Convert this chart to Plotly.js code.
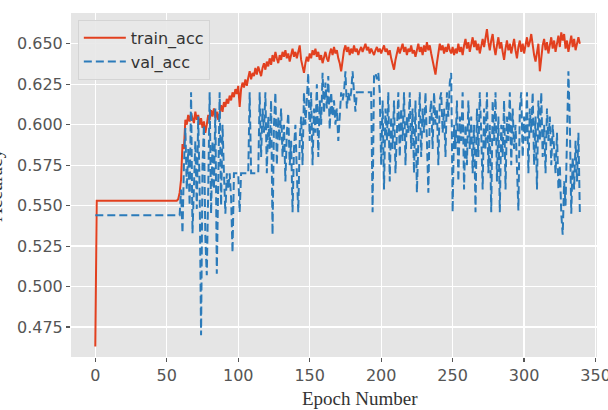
<!DOCTYPE html>
<html>
<head>
<meta charset="utf-8">
<script src="https://cdn.plot.ly/plotly-3.0.1.min.js"></script>
<style>html,body{margin:0;padding:0;background:#fff;}#chart{width:608px;height:410px;}</style>
</head>
<body>
<div id="chart"></div>
<script>
var seriesNames = ["train_acc", "val_acc"];
var xTickVals = [0, 50, 100, 150, 200, 250, 300, 350];
var yTickVals = [0.475, 0.500, 0.525, 0.550, 0.575, 0.600, 0.625, 0.650];
var xLabel = "Epoch Number";
var yLabel = "Accuracy";

var trainAcc = [
0.463,0.553,0.553,0.553,0.553,0.553,0.553,0.553,0.553,0.553,
0.553,0.553,0.553,0.553,0.553,0.553,0.553,0.553,0.553,0.553,
0.553,0.553,0.553,0.553,0.553,0.553,0.553,0.553,0.553,0.553,
0.553,0.553,0.553,0.553,0.553,0.553,0.553,0.553,0.553,0.553,
0.553,0.553,0.553,0.553,0.553,0.553,0.553,0.553,0.553,0.553,
0.553,0.553,0.553,0.553,0.553,0.553,0.553,0.553,0.554,0.558,
0.566,0.588,0.585,0.603,0.600,0.606,0.602,0.607,0.604,0.601,
0.608,0.603,0.606,0.600,0.604,0.598,0.602,0.595,0.600,0.606,
0.603,0.609,0.605,0.610,0.604,0.608,0.603,0.609,0.612,0.608,
0.614,0.611,0.616,0.613,0.618,0.615,0.620,0.617,0.622,0.619,
0.624,0.611,0.622,0.626,0.623,0.628,0.624,0.629,0.633,0.628,
0.632,0.630,0.635,0.631,0.636,0.633,0.630,0.635,0.638,0.634,
0.639,0.636,0.641,0.637,0.643,0.639,0.645,0.641,0.638,0.643,
0.640,0.645,0.642,0.646,0.641,0.644,0.639,0.643,0.647,0.642,
0.645,0.641,0.646,0.649,0.640,0.636,0.632,0.638,0.642,0.639,
0.644,0.641,0.646,0.643,0.647,0.642,0.645,0.640,0.643,0.638,
0.642,0.645,0.641,0.639,0.644,0.647,0.643,0.648,0.644,0.646,
0.641,0.638,0.633,0.640,0.646,0.649,0.645,0.648,0.643,0.647,
0.644,0.649,0.645,0.647,0.643,0.646,0.648,0.645,0.647,0.650,
0.646,0.648,0.644,0.647,0.645,0.643,0.646,0.648,0.645,0.647,
0.644,0.646,0.649,0.645,0.647,0.643,0.646,0.641,0.637,0.634,
0.640,0.645,0.648,0.644,0.647,0.650,0.645,0.648,0.643,0.647,
0.645,0.649,0.644,0.646,0.642,0.647,0.650,0.645,0.648,0.643,
0.649,0.645,0.651,0.646,0.649,0.644,0.640,0.635,0.631,0.638,
0.645,0.650,0.646,0.649,0.644,0.648,0.645,0.650,0.646,0.644,
0.648,0.643,0.647,0.644,0.650,0.645,0.648,0.643,0.649,0.653,
0.647,0.651,0.645,0.650,0.654,0.648,0.652,0.646,0.650,0.644,
0.649,0.653,0.648,0.655,0.659,0.651,0.646,0.652,0.656,0.648,
0.643,0.649,0.654,0.647,0.651,0.645,0.640,0.647,0.652,0.646,
0.650,0.644,0.649,0.653,0.646,0.641,0.648,0.652,0.645,0.650,
0.644,0.649,0.654,0.648,0.651,0.656,0.648,0.643,0.639,0.646,
0.650,0.633,0.642,0.649,0.653,0.646,0.651,0.644,0.649,0.654,
0.647,0.652,0.645,0.650,0.655,0.648,0.657,0.652,0.656,0.647,
0.652,0.645,0.651,0.655,0.648,0.653,0.646,0.651,0.654,0.650
];

var valAcc = [
0.544,0.544,0.544,0.544,0.544,0.544,0.544,0.544,0.544,0.544,
0.544,0.544,0.544,0.544,0.544,0.544,0.544,0.544,0.544,0.544,
0.544,0.544,0.544,0.544,0.544,0.544,0.544,0.544,0.544,0.544,
0.544,0.544,0.544,0.544,0.544,0.544,0.544,0.544,0.544,0.544,
0.544,0.544,0.544,0.544,0.544,0.544,0.544,0.544,0.544,0.544,
0.544,0.544,0.544,0.544,0.544,0.544,0.544,0.544,0.544,0.544,
0.560,0.533,0.575,0.598,0.560,0.585,0.550,0.620,0.533,0.565,
0.590,0.548,0.605,0.560,0.470,0.575,0.600,0.530,0.507,0.560,
0.620,0.545,0.590,0.560,0.610,0.508,0.575,0.620,0.550,0.600,
0.570,0.545,0.570,0.560,0.570,0.555,0.521,0.570,0.570,0.570,
0.570,0.546,0.570,0.570,0.570,0.570,0.570,0.570,0.620,0.570,
0.570,0.570,0.570,0.570,0.570,0.620,0.580,0.610,0.595,0.620,
0.570,0.605,0.585,0.615,0.532,0.600,0.620,0.575,0.605,0.590,
0.610,0.580,0.600,0.565,0.595,0.607,0.575,0.590,0.546,0.585,
0.600,0.570,0.546,0.590,0.605,0.575,0.620,0.600,0.615,0.632,
0.590,0.620,0.575,0.610,0.595,0.625,0.580,0.615,0.600,0.632,
0.607,0.626,0.610,0.630,0.597,0.620,0.605,0.615,0.600,0.610,
0.590,0.605,0.620,0.615,0.620,0.633,0.610,0.620,0.615,0.620,
0.633,0.620,0.608,0.620,0.620,0.620,0.620,0.620,0.620,0.620,
0.620,0.620,0.620,0.620,0.546,0.630,0.632,0.628,0.632,0.620,
0.575,0.615,0.560,0.610,0.590,0.620,0.565,0.605,0.585,0.615,
0.570,0.600,0.620,0.580,0.610,0.590,0.620,0.575,0.605,0.595,
0.620,0.585,0.610,0.570,0.615,0.558,0.600,0.620,0.580,0.610,
0.595,0.620,0.590,0.558,0.605,0.615,0.585,0.620,0.600,0.610,
0.575,0.615,0.620,0.595,0.610,0.580,0.620,0.605,0.626,0.632,
0.546,0.600,0.585,0.615,0.565,0.605,0.590,0.620,0.560,0.600,
0.575,0.615,0.585,0.605,0.570,0.600,0.546,0.610,0.580,0.620,
0.595,0.560,0.610,0.585,0.620,0.570,0.600,0.546,0.615,0.590,
0.620,0.565,0.605,0.546,0.600,0.580,0.615,0.560,0.605,0.590,
0.620,0.575,0.610,0.585,0.600,0.565,0.547,0.610,0.620,0.580,
0.605,0.590,0.620,0.570,0.610,0.595,0.620,0.575,0.605,0.560,
0.615,0.590,0.620,0.580,0.600,0.570,0.610,0.590,0.605,0.575,
0.600,0.585,0.570,0.595,0.560,0.575,0.545,0.532,0.565,0.550,
0.590,0.633,0.600,0.545,0.580,0.560,0.590,0.565,0.595,0.545
];

var traces = [
  {y: trainAcc, name: seriesNames[0], type: "scatter", mode: "lines",
   line: {color: "#e2401f", width: 2}},
  {y: valAcc, name: seriesNames[1], type: "scatter", mode: "lines",
   line: {color: "#2b7bba", width: 2, dash: "8px,4px"}}
];

var tickFont = {family: "DejaVu Sans, sans-serif", size: 16, color: "#555555"};

var layout = {
  width: 608, height: 410,
  margin: {l: 71, r: 11, t: 13, b: 53},
  paper_bgcolor: "#ffffff",
  plot_bgcolor: "#e5e5e5",
  showlegend: true,
  legend: {
    x: 0.013, y: 0.98, xanchor: "left", yanchor: "top",
    bgcolor: "rgba(232,232,232,0.9)", bordercolor: "#d4d4d4", borderwidth: 1,
    font: {family: "DejaVu Sans, sans-serif", size: 16, color: "#333333"},
    tracegroupgap: 0, itemwidth: 42
  },
  xaxis: {
    range: [-17, 351],
    tickvals: xTickVals,
    ticks: "outside", ticklen: 4, tickwidth: 1.2, tickcolor: "#555555",
    tickfont: tickFont, ticklabeloverflow: "allow",
    showgrid: true, gridcolor: "#ffffff", gridwidth: 1.3,
    zeroline: false, showline: false
  },
  yaxis: {
    range: [0.4565, 0.669],
    tickvals: yTickVals,
    tickformat: ".3f",
    ticks: "outside", ticklen: 4, tickwidth: 1.2, tickcolor: "#555555",
    tickfont: tickFont,
    showgrid: true, gridcolor: "#ffffff", gridwidth: 1.3,
    zeroline: false, showline: false
  },
  annotations: [
    {text: xLabel, xref: "paper", yref: "paper", x: 0.549, y: -0.084,
     xanchor: "center", yanchor: "top", showarrow: false,
     font: {family: "Liberation Serif, serif", size: 19, color: "#333333"}},
    {text: yLabel, xref: "paper", yref: "paper", x: -0.121, y: 0.5,
     xanchor: "right", yanchor: "middle", textangle: -90, showarrow: false,
     font: {family: "Liberation Serif, serif", size: 19, color: "#333333"}}
  ]
};

Plotly.newPlot("chart", traces, layout, {staticPlot: true, displayModeBar: false});
</script>
</body>
</html>
